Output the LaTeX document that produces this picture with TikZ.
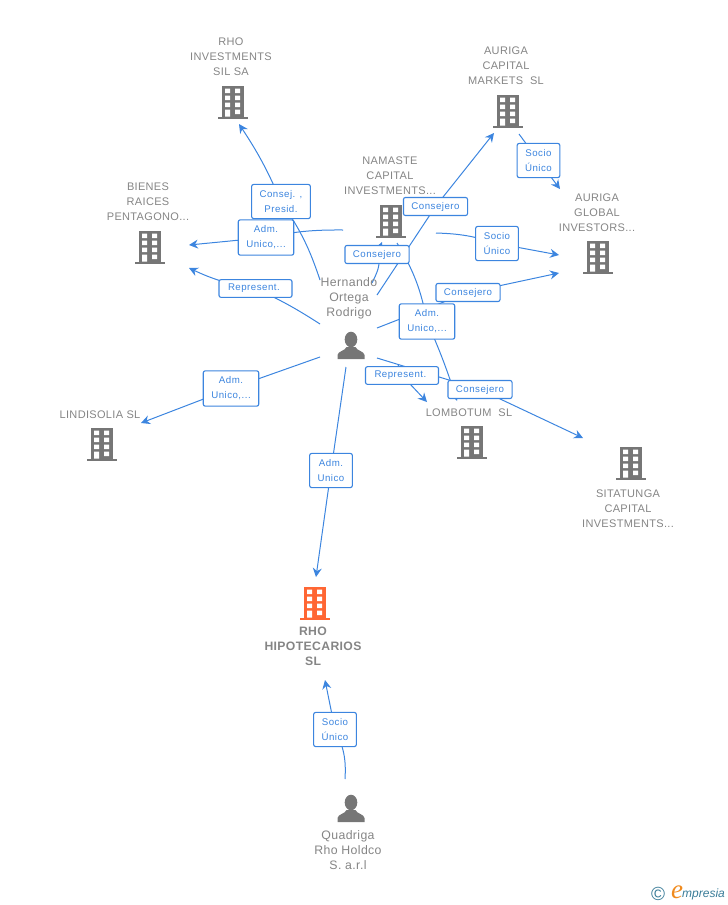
\documentclass[tikz,border=0pt]{standalone}
\usepackage{fontspec}
\setmainfont[LetterSpace=3]{Liberation Sans}
\newfontfamily\labelfont[LetterSpace=5]{Liberation Sans}
\newfontfamily\logofont{Liberation Sans}
\newfontfamily\logoserif{Liberation Serif}
\usetikzlibrary{arrows.meta,backgrounds}
\definecolor{bldggray}{HTML}{767676}
\definecolor{namegray}{HTML}{858585}
\definecolor{linkblue}{HTML}{3C85DF}
\definecolor{mainorange}{HTML}{FF6633}
\definecolor{logoteal}{HTML}{3A7C98}
\definecolor{logoorange}{HTML}{F08A1D}
\tikzset{
  firm/.style={text=namegray,align=center,font=\fontsize{11}{15}\selectfont,inner sep=0pt},
  owner/.style={firm,font=\fontsize{12.3}{15}\selectfont},
  mainfirm/.style={firm,font=\bfseries\fontsize{12.2}{15}\selectfont},
  role/.style={draw=linkblue,fill=white,text=linkblue,rounded corners=2pt,line width=1.1pt,
    align=center,font=\labelfont\fontsize{9.7}{15}\selectfont,inner xsep=8pt,inner ysep=4.5pt},
  roletwo/.style={role,inner ysep=6pt},
  rolelong/.style={role,minimum width=73pt},
  link/.style={draw=linkblue,line width=1pt},
  linkto/.style={link,-{Stealth[length=9pt,width=9pt,inset=3pt]}},
  pics/building/.style={code={
    \fill[#1] (-11,-33) rectangle (11,-2);
    \fill[#1] (-15,-2.5) rectangle (15,0);
    \fill[white] (-8,-30.5) rectangle (-3,-26) (2,-30.5) rectangle (7,-26);
    \fill[white] (-8,-23.5) rectangle (-3,-19) (2,-23.5) rectangle (7,-19);
    \fill[white] (-8,-16.5) rectangle (-3,-12) (2,-16.5) rectangle (7,-12);
    \fill[white] (-8,-9.5) rectangle (-3,-2.5) (2,-9.5) rectangle (7,-5);
  }},
  pics/person/.style={code={
    \fill[bldggray] (0,-19.5) ellipse (6.3 and 7.8);
    \fill[bldggray] (-13.5,0) -- (-13.5,-4) .. controls (-13,-8) and (-6,-8) .. (-4.5,-12)
      -- (4.5,-12) .. controls (6,-8) and (13,-8) .. (13.5,-4) -- (13.5,0) -- cycle;
  }},
}
\begin{document}
\begin{tikzpicture}[x=1pt,y=-1pt]
      \useasboundingbox (0,0) rectangle (728,905);
      \node[firm] (rhoinv) at (231,57) {RHO\\INVESTMENTS\\SIL SA};
      \node[firm] (aurcap) at (506,66) {AURIGA\\CAPITAL\\MARKETS\ \ SL};
      \node[firm] (namaste) at (390,176) {NAMASTE\\CAPITAL\\INVESTMENTS...};
      \node[firm] (aurglob) at (597,213) {AURIGA\\GLOBAL\\INVESTORS...};
      \node[firm] (bienes) at (148,202) {BIENES\\RAICES\\PENTAGONO...};
      \node[owner] (hernando) at (349,298.5) {Hernando\\Ortega\\Rodrigo};
      \node[firm] (lindisolia) at (100,415) {LINDISOLIA SL};
      \node[firm] (lombotum) at (469,413) {LOMBOTUM\ \ SL};
      \node[firm] (sitatunga) at (628,509) {SITATUNGA\\CAPITAL\\INVESTMENTS...};
      \node[mainfirm] (hipotec) at (313,646) {RHO\\HIPOTECARIOS\\SL};
      \node[owner] (quadriga) at (348,850) {Quadriga\\Rho Holdco\\S. a.r.l};
      \pic (b1) at (233,119) {building=bldggray};
      \pic (b2) at (508,128) {building=bldggray};
      \pic (b3) at (391,238) {building=bldggray};
      \pic (b4) at (598,274) {building=bldggray};
      \pic (b5) at (150,264) {building=bldggray};
      \pic (b6) at (102,461) {building=bldggray};
      \pic (b7) at (472,459) {building=bldggray};
      \pic (b8) at (631,480) {building=bldggray};
      \pic (b9) at (315,620) {building=mainorange};
      \pic (p1) at (351,359) {person};
      \pic (p2) at (351,822) {person};
      \node[roletwo] (r1) at (281,201.5) {Consej. ,\\Presid.};
      \node[roletwo] (r2) at (266,237.5) {Adm.\\Unico,...};
      \node[rolelong] (r3) at (255.5,288.5) {Represent.~};
      \node[role] (r4) at (377,254.5) {Consejero};
      \node[role] (r5) at (435.5,206.5) {Consejero};
      \node[roletwo] (r6) at (538.5,160.5) {Socio\\Único};
      \node[roletwo] (r7) at (497,243.5) {Socio\\Único};
      \node[role] (r8) at (468,292.5) {Consejero};
      \node[roletwo] (r9) at (427,321.5) {Adm.\\Unico,...};
      \node[role] (r10) at (480,389.5) {Consejero};
      \node[rolelong] (r11) at (402,375.5) {Represent.~};
      \node[roletwo] (r12) at (231,388.5) {Adm.\\Unico,...};
      \node[roletwo] (r13) at (331,470.5) {Adm.\\Unico};
      \node[roletwo] (r14) at (335,729.5) {Socio\\Único};
      \draw
        (320,280) coordinate (s1)
        (239,124) coordinate (e1)
        (343,230) coordinate (s2)
        (189,245) coordinate (e2)
        (320,324) coordinate (s3)
        (189,268) coordinate (e3)
        (372,283) coordinate (s4)
        (382,242) coordinate (e4)
        (377,295) coordinate (s5)
        (494,133) coordinate (e5)
        (519,134) coordinate (s6)
        (560,189) coordinate (e6)
        (436,233) coordinate (s7)
        (559,255) coordinate (e7)
        (377,328) coordinate (s8)
        (559,273) coordinate (e8)
        (397,243) coordinate (s9)
        (457,401) coordinate (e9)
        (377,358) coordinate (s10)
        (583,438) coordinate (e10)
        (398,364.5) coordinate (s11)
        (427,402) coordinate (e11)
        (320,357) coordinate (s12)
        (141,423) coordinate (e12)
        (346,367) coordinate (s13)
        (316,577) coordinate (e13)
        (345,779) coordinate (s14)
        (325,680) coordinate (e14);
      \begin{scope}[on background layer]
        \draw[linkto] (s1) to[bend right=8] (r1.center) to[bend right=5] (e1);
        \draw[linkto] (s2) to[bend right=6] (r2.center) to (e2);
        \draw[linkto] (s3) to[bend right=4] (r3.center) to[bend left=8] (e3);
        \draw[linkto] (s4) to[out=65,in=-65] (r4.center) to (e4);
        \draw[linkto] (s5) to (r5.center) to (e5);
        \draw[linkto] (s6) to (r6.center) to (e6);
        \draw[linkto] (s7) to[bend left=8] (r7.center) to (e7);
        \draw[linkto] (s8) to (r8.center) to (e8);
        \draw[linkto] (s9) to[bend left=10] (r9.center) to[bend left=3] (e9);
        \draw[linkto] (s10) to (r10.center) to (e10);
        \draw[linkto] (s11) to (r11.center) to (e11);
        \draw[linkto] (s12) to (r12.center) to (e12);
        \draw[linkto] (s13) to (r13.center) to (e13);
        \draw[linkto] (s14) to[bend right=15] (r14.center) to (e14);
      \end{scope}
      \node[inner sep=0pt,text=logoteal,font=\logofont\fontsize{19}{19}\selectfont] (logoc) at (658,894) {©};
      \node[inner sep=0pt,text=logoorange,font=\logoserif\itshape\fontsize{27}{27}\selectfont] (logoe) at (677,892) {e};
      \node[inner sep=0pt,anchor=west,text=logoteal,font=\logofont\itshape\fontsize{12}{12}\selectfont] (logot) at (682,894) {mpresia};
    \end{tikzpicture}
\end{document}
